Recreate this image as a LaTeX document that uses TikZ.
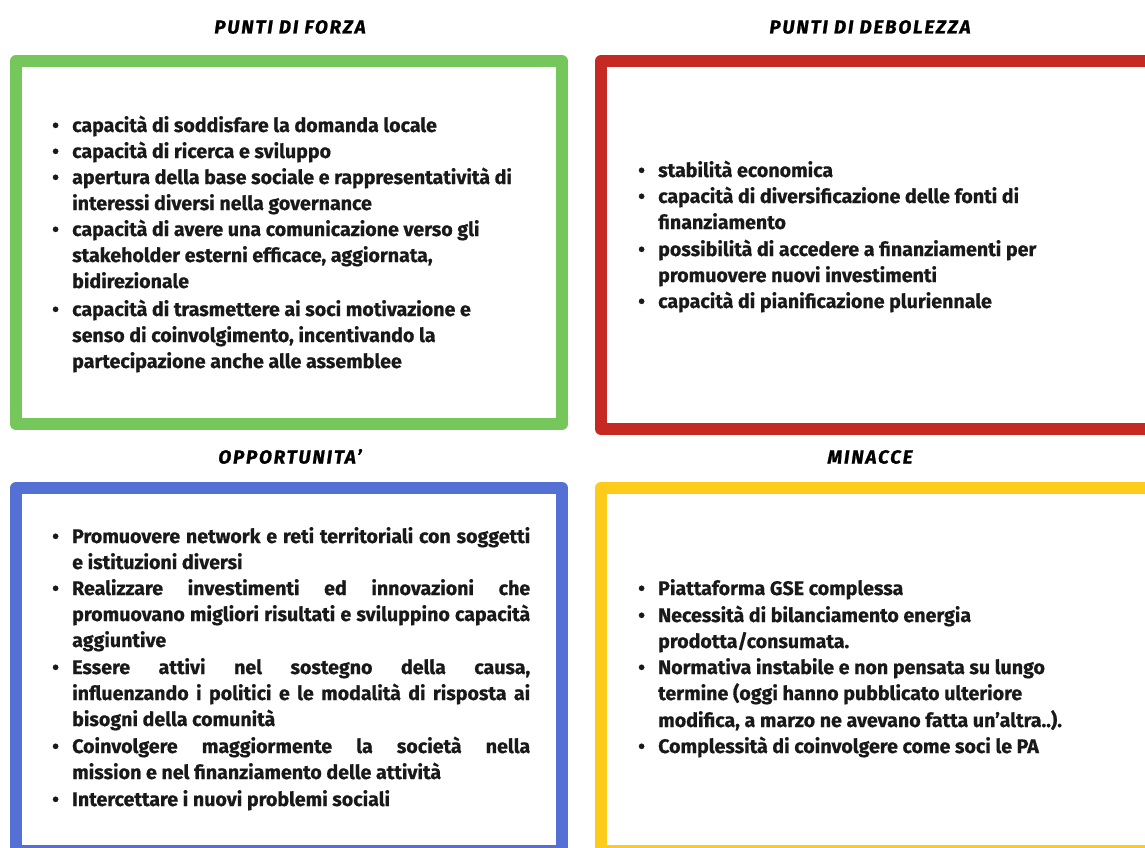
\documentclass[tikz,border=0pt]{standalone}
\usepackage{fontspec}
\setmainfont{Fira Sans}
\newfontfamily\bodyfont{Fira Sans}[BoldFeatures={FakeBold=0.6}]
\newfontfamily\headfont{Fira Sans}[LetterSpace=10,BoldItalicFeatures={FakeBold=1.2}]
\definecolor{cgreen}{RGB}{117,199,92}
\definecolor{cred}{RGB}{198,40,34}
\definecolor{cblue}{RGB}{84,112,212}
\definecolor{cyellow}{RGB}{253,203,26}
\tikzset{
  boxst/.style={rectangle, line width=12pt, line join=round, inner sep=0pt, fill=none},
  bodytxt/.style={font=\bodyfont\bfseries\fontsize{19.6}{23}\selectfont, anchor=base west, inner sep=0pt, text=black!90},
  bul/.style={font=\bodyfont\bfseries\fontsize{19.6}{23}\selectfont, anchor=base west, inner sep=0pt, text=black!90},
  headtxt/.style={font=\headfont\bfseries\itshape\fontsize{18.8}{22}\selectfont, anchor=base, inner sep=0pt}
}
\newcommand{\jl}[1]{\makebox[458pt][s]{#1}}
\begin{document}
\begin{tikzpicture}[x=1pt,y=-1pt]
\useasboundingbox (0,0) rectangle (1145,848);
\clip (0,0) rectangle (1145,848);
\fill[white] (0,0) rectangle (1145,848);
% boxes
\node[boxst, draw=cgreen, minimum width=546pt, minimum height=363pt] (forza) at (289,242.5) {};
\node[boxst, draw=cred, minimum width=569pt, minimum height=368pt] (debolezza) at (885.5,245) {};
\node[boxst, draw=cblue, minimum width=546pt, minimum height=363pt] (opport) at (289,669.5) {};
\node[boxst, draw=cyellow, minimum width=569pt, minimum height=363pt] (minacce) at (885.5,669.5) {};
% headings
\node[headtxt] (hforza) at (290,33.5) {PUNTI DI FORZA};
\node[headtxt] (hdeb) at (870,33.5) {PUNTI DI DEBOLEZZA};
\node[headtxt] (hopp) at (290,463.5) {OPPORTUNITA’};
\node[headtxt] (hmin) at (870,463.5) {MINACCE};
% green
\node[bul] (gb1) at (52,132) {•};
\node[bodytxt] (g1) at (72,132) {capacità di soddisfare la domanda locale};
\node[bul] (gb2) at (52,158) {•};
\node[bodytxt] (g2) at (72,158) {capacità di ricerca e sviluppo};
\node[bul] (gb3) at (52,184) {•};
\node[bodytxt] (g3) at (72,184) {apertura della base sociale e rappresentatività di};
\node[bodytxt] (g4) at (72,210) {interessi diversi nella governance};
\node[bul] (gb4) at (52,236) {•};
\node[bodytxt] (g5) at (72,236) {capacità di avere una comunicazione verso gli};
\node[bodytxt] (g6) at (72,262) {stakeholder esterni efficace, aggiornata,};
\node[bodytxt] (g7) at (72,288) {bidirezionale};
\node[bul] (gb5) at (52,316) {•};
\node[bodytxt] (g8) at (72,316) {capacità di trasmettere ai soci motivazione e};
\node[bodytxt] (g9) at (72,342) {senso di coinvolgimento, incentivando la};
\node[bodytxt] (g10) at (72,368) {partecipazione anche alle assemblee};
% red
\node[bul] (rb1) at (638,177) {•};
\node[bodytxt] (r1) at (658,177) {stabilità economica};
\node[bul] (rb2) at (638,203) {•};
\node[bodytxt] (r2) at (658,203) {capacità di diversificazione delle fonti di};
\node[bodytxt] (r3) at (658,229) {finanziamento};
\node[bul] (rb3) at (638,256) {•};
\node[bodytxt] (r4) at (658,256) {possibilità di accedere a finanziamenti per};
\node[bodytxt] (r5) at (658,282) {promuovere nuovi investimenti};
\node[bul] (rb4) at (638,308) {•};
\node[bodytxt] (r6) at (658,308) {capacità di pianificazione pluriennale};
% blue
\node[bul] (bb1) at (52,543) {•};
\node[bodytxt] (b1) at (72,543) {\jl{Promuovere network e reti territoriali con soggetti}};
\node[bodytxt] (b2) at (72,569) {e istituzioni diversi};
\node[bul] (bb2) at (52,595) {•};
\node[bodytxt] (b3) at (72,595) {\jl{Realizzare investimenti ed innovazioni che}};
\node[bodytxt] (b4) at (72,621) {\jl{promuovano migliori risultati e sviluppino capacità}};
\node[bodytxt] (b5) at (72,647) {aggiuntive};
\node[bul] (bb3) at (52,674) {•};
\node[bodytxt] (b6) at (72,674) {\jl{Essere attivi nel sostegno della causa,}};
\node[bodytxt] (b7) at (72,700) {\jl{influenzando i politici e le modalità di risposta ai}};
\node[bodytxt] (b8) at (72,726) {bisogni della comunità};
\node[bul] (bb4) at (52,753) {•};
\node[bodytxt] (b9) at (72,753) {\jl{Coinvolgere maggiormente la società nella}};
\node[bodytxt] (b10) at (72,779) {mission e nel finanziamento delle attività};
\node[bul] (bb5) at (52,806) {•};
\node[bodytxt] (b11) at (72,806) {Intercettare i nuovi problemi sociali};
% yellow
\node[bul] (yb1) at (638,595) {•};
\node[bodytxt] (y1) at (658,595) {Piattaforma GSE complessa};
\node[bul] (yb2) at (638,622) {•};
\node[bodytxt] (y2) at (658,622) {Necessità di bilanciamento energia};
\node[bodytxt] (y3) at (658,648) {prodotta/consumata.};
\node[bul] (yb3) at (638,674) {•};
\node[bodytxt] (y4) at (658,674) {Normativa instabile e non pensata su lungo};
\node[bodytxt] (y5) at (658,700) {termine (oggi hanno pubblicato ulteriore};
\node[bodytxt] (y6) at (658,727) {modifica, a marzo ne avevano fatta un’altra..).};
\node[bul] (yb4) at (638,753) {•};
\node[bodytxt] (y7) at (658,753) {Complessità di coinvolgere come soci le PA};
\end{tikzpicture}
\end{document}
